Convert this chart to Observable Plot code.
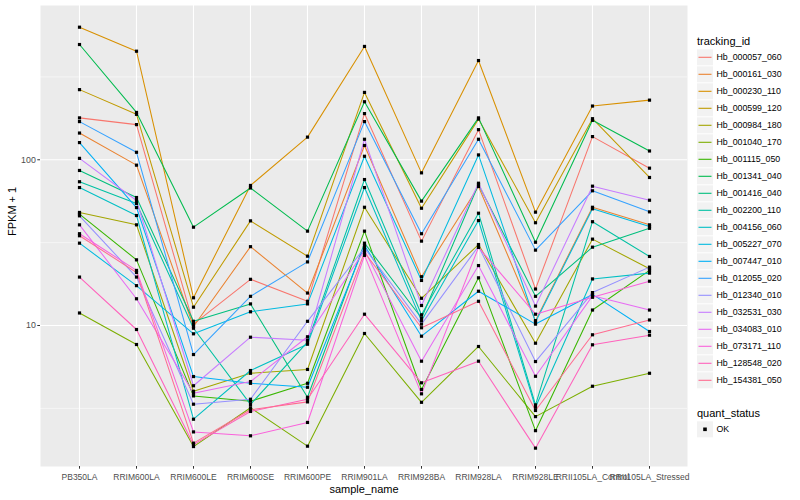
<!DOCTYPE html>
<html><head><meta charset="utf-8">
<script src="https://cdn.jsdelivr.net/npm/d3@7"></script>
<script src="https://cdn.jsdelivr.net/npm/@observablehq/plot@0.6"></script>
<style>
body{margin:0;background:#fff;font-family:"Liberation Sans",Arial,sans-serif;}
#wrap{position:relative;width:800px;height:500px;overflow:hidden;}
</style></head><body><div id="wrap"></div>
<script>
const samples = ["PB350LA","RRIM600LA","RRIM600LE","RRIM600SE","RRIM600PE","RRIM901LA","RRIM928BA","RRIM928LA","RRIM928LE","RRII105LA_Control","RRII105LA_Stressed"];
const trackingIds = ["Hb_000057_060","Hb_000161_030","Hb_000230_110","Hb_000599_120","Hb_000984_180","Hb_001040_170","Hb_001115_050","Hb_001341_040","Hb_001416_040","Hb_002200_110","Hb_004156_060","Hb_005227_070","Hb_007447_010","Hb_012055_020","Hb_012340_010","Hb_032531_030","Hb_034083_010","Hb_073171_110","Hb_128548_020","Hb_154381_050"];
const palette = ["#F8766D","#EA8331","#D89000","#C09B00","#A3A500","#7CAE00","#39B600","#00BB4E","#00BF7D","#00C1A3","#00BFC4","#00BAE0","#00B0F6","#35A2FF","#9590FF","#C77CFF","#E76BF3","#FA62DB","#FF62BC","#FF6C91"];
const quantStatus = ["OK"];

// FPKM + 1 per sample (order of samples)
const Hb_000057_060 = [179, 163, 10.2, 19.0, 14.0, 190, 32.3, 152, 16.6, 138, 89];
const Hb_000161_030 = [145, 92.8, 9.86, 29.9, 15.7, 122, 19.7, 69.0, 10.7, 51.7, 40.5];
const Hb_000230_110 = [631, 452, 14.7, 70.0, 137, 483, 83.4, 397, 48.3, 211, 229];
const Hb_000599_120 = [265, 188, 12.9, 42.8, 26.2, 255, 51.0, 176, 41.7, 177, 78.2];
const Hb_000984_180 = [48.1, 40.5, 4.01, 5.15, 5.43, 51.7, 14.6, 30.8, 7.82, 33.2, 22.0];
const Hb_001040_170 = [11.9, 7.68, 1.86, 3.19, 1.87, 8.95, 3.44, 7.47, 2.82, 4.30, 5.15];
const Hb_001115_050 = [47.0, 24.9, 3.76, 3.49, 4.48, 37.1, 4.11, 19.4, 2.32, 12.4, 21.5];
const Hb_001341_040 = [496, 193, 39.2, 67.6, 37.1, 224, 56.3, 179, 31.8, 173, 113];
const Hb_001416_040 = [86.2, 59.2, 10.6, 13.5, 3.69, 31.4, 11.1, 70.9, 15.0, 29.7, 38.6];
const Hb_002200_110 = [73.7, 54.5, 9.63, 3.34, 7.93, 76.0, 11.6, 47.6, 3.32, 42.3, 26.1];
const Hb_004156_060 = [68.0, 46.1, 2.72, 5.35, 7.71, 68.0, 10.7, 43.0, 3.21, 19.1, 20.7];
const Hb_005227_070 = [31.4, 17.4, 8.91, 12.1, 13.5, 105, 18.7, 107, 10.5, 50.6, 39.6];
const Hb_007447_010 = [127, 51.5, 4.92, 4.48, 4.24, 30.4, 8.62, 16.1, 10.2, 15.4, 9.20];
const Hb_012055_020 = [170, 111, 6.68, 15.0, 24.2, 170, 35.8, 133, 28.5, 65.0, 48.5];
const Hb_012340_010 = [45.9, 19.6, 3.35, 3.59, 10.6, 29.4, 10.2, 30.1, 6.06, 15.8, 22.5];
const Hb_032531_030 = [102, 56.8, 4.33, 8.50, 8.15, 133, 13.2, 72.2, 13.1, 69.3, 57.0];
const Hb_034083_010 = [40.5, 14.5, 3.90, 4.59, 8.55, 28.4, 6.09, 23.0, 4.94, 15.1, 12.4];
const Hb_073171_110 = [35.8, 21.5, 2.28, 2.16, 2.60, 26.5, 3.87, 29.6, 11.7, 14.8, 18.5];
const Hb_128548_020 = [19.6, 9.46, 1.91, 3.03, 3.59, 11.7, 4.51, 6.09, 1.82, 7.65, 8.74];
const Hb_154381_050 = [34.8, 20.9, 1.95, 3.10, 3.46, 27.6, 9.69, 14.0, 3.07, 8.79, 10.8];

const seriesValues = [Hb_000057_060, Hb_000161_030, Hb_000230_110, Hb_000599_120, Hb_000984_180, Hb_001040_170, Hb_001115_050, Hb_001341_040, Hb_001416_040, Hb_002200_110, Hb_004156_060, Hb_005227_070, Hb_007447_010, Hb_012055_020, Hb_012340_010, Hb_032531_030, Hb_034083_010, Hb_073171_110, Hb_128548_020, Hb_154381_050];

const majorBreaks = [10, 100];
const minorBreaks = [3.1623, 31.623, 316.23];

const rows = trackingIds.flatMap((id, i) => samples.map((s, j) => ({id, sample: s, value: seriesValues[i][j], status: quantStatus[0]})));

const font = '"Liberation Sans", Arial, sans-serif';

const chart = Plot.plot({
  width: 800, height: 500,
  marginLeft: 40, marginRight: 113, marginTop: 5, marginBottom: 34,
  style: {fontFamily: font, background: "transparent", overflow: "visible"},
  x: {type: "point", domain: samples, padding: 0.6},
  y: {type: "log", domain: [1.41, 853]},
  color: {domain: trackingIds, range: palette},
  marks: [
    Plot.frame({fill: "#EBEBEB", stroke: null}),
    Plot.ruleY(minorBreaks, {stroke: "white", strokeWidth: 0.55}),
    Plot.ruleY(majorBreaks, {stroke: "white", strokeWidth: 1.1}),
    Plot.ruleX(samples, {stroke: "white", strokeWidth: 1.1}),
    Plot.line(rows, {x: "sample", y: "value", z: "id", stroke: "id", strokeWidth: 1.05}),
    Plot.dot(rows, {x: "sample", y: "value", symbol: "square", r: 1.8, fill: "black", stroke: null}),
    Plot.axisY(majorBreaks, {tickFormat: d => String(d), tickSize: 2.7, tickPadding: 2, fontSize: 8.8, fill: "#4D4D4D", stroke: "#333333", label: null}),
    Plot.axisX({tickSize: 2.7, tickPadding: 4.5, fontSize: 8.5, fill: "#4D4D4D", stroke: "#333333", label: null}),
    Plot.text(["FPKM + 1"], {frameAnchor: "left", dx: -28, rotate: -90, fontSize: 11, fill: "black"}),
    Plot.text(["sample_name"], {frameAnchor: "bottom", dy: 23, lineAnchor: "middle", fontSize: 11, fill: "black"})
  ]
});
document.getElementById("wrap").appendChild(chart);

// legend
const leg = d3.select("#wrap").append("svg")
  .attr("width", 110).attr("height", 500)
  .style("position", "absolute").style("left", "690px").style("top", "0px")
  .style("font-family", font);
leg.append("text").attr("x", 7).attr("y", 44.5).attr("font-size", 11).text("tracking_id");
trackingIds.forEach((id, i) => {
  const cy = 57.3 + 17 * i;
  leg.append("rect").attr("x", 7).attr("y", cy - 8).attr("width", 16).attr("height", 16).attr("fill", "#F2F2F2");
  leg.append("line").attr("x1", 8.5).attr("x2", 21.5).attr("y1", cy).attr("y2", cy).attr("stroke", palette[i]).attr("stroke-width", 1.1);
  leg.append("text").attr("x", 26.5).attr("y", cy).attr("dy", "0.35em").attr("font-size", 8.8).text(id);
});
leg.append("text").attr("x", 7).attr("y", 417.3).attr("font-size", 11).text("quant_status");
quantStatus.forEach((q, i) => {
  const cy = 429.3 + 17 * i;
  leg.append("rect").attr("x", 7).attr("y", cy - 8).attr("width", 16).attr("height", 16).attr("fill", "#F2F2F2");
  leg.append("rect").attr("x", 13.2).attr("y", cy - 1.8).attr("width", 3.6).attr("height", 3.6).attr("fill", "black");
  leg.append("text").attr("x", 26.5).attr("y", cy).attr("dy", "0.35em").attr("font-size", 8.8).text(q);
});
</script></body></html>
